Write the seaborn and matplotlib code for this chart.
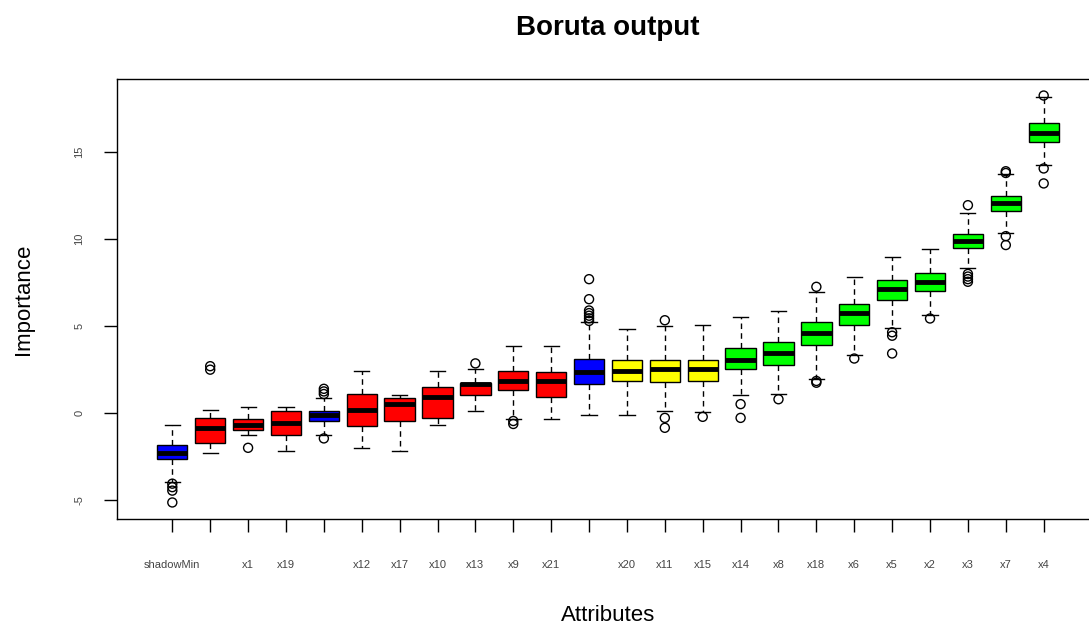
import numpy as np
import pandas as pd
import matplotlib
matplotlib.use("Agg")
import matplotlib.pyplot as plt
import seaborn as sns

# Attributes in plotting order (sorted by median importance)
attributes = ["shadowMin", "x16", "x1", "x19", "shadowMean", "x12", "x17", "x10",
              "x13", "x9", "x21", "shadowMax", "x20", "x11", "x15", "x14",
              "x8", "x18", "x6", "x5", "x2", "x3", "x7", "x4"]
# Labels that fit along the axis (overlapping ones are left blank)
tick_labels = ["shadowMin", "", "x1", "x19", "", "x12", "x17", "x10",
               "x13", "x9", "x21", "", "x20", "x11", "x15", "x14",
               "x8", "x18", "x6", "x5", "x2", "x3", "x7", "x4"]
decision = ["shadow", "rejected", "rejected", "rejected", "shadow", "rejected",
            "rejected", "rejected", "rejected", "rejected", "rejected", "shadow",
            "tentative", "tentative", "tentative", "confirmed", "confirmed",
            "confirmed", "confirmed", "confirmed", "confirmed", "confirmed",
            "confirmed", "confirmed"]

# Five-number summaries of the importance history
whisker_low = [-3.95, -2.26, -1.28, -2.16, -1.23, -1.99, -2.16, -0.69,
               0.15, -0.31, -0.36, -0.11, -0.11, 0.13, 0.04, 1.03,
               1.09, 1.95, 3.33, 4.87, 5.63, 8.35, 10.33, 14.25]
q1 = [-2.66, -1.69, -0.94, -1.28, -0.44, -0.71, -0.44, -0.29,
      1.03, 1.34, 0.94, 1.69, 1.86, 1.78, 1.86, 2.51,
      2.76, 3.91, 5.06, 6.53, 7.03, 9.50, 11.63, 15.60]
median = [-2.26, -0.84, -0.67, -0.59, -0.13, 0.21, 0.54, 0.95,
          1.65, 1.86, 1.86, 2.38, 2.45, 2.51, 2.51, 3.08,
          3.43, 4.58, 5.73, 7.11, 7.55, 9.90, 12.05, 16.11]
q3 = [-1.84, -0.27, -0.36, 0.13, 0.13, 1.13, 0.86, 1.51,
      1.76, 2.41, 2.36, 3.14, 3.08, 3.08, 3.08, 3.74,
      4.08, 5.21, 6.30, 7.68, 8.03, 10.29, 12.47, 16.65]
whisker_high = [-0.69, 0.21, 0.38, 0.38, 0.86, 2.41, 1.02, 2.41,
                2.51, 3.85, 3.85, 5.21, 4.81, 5.02, 5.06, 5.54,
                5.86, 6.97, 7.84, 8.98, 9.41, 11.48, 13.77, 18.14]

# Outlying runs
outlier_attr = ["shadowMin"] * 4 + ["x16"] * 2 + ["x1"] + ["shadowMean"] * 4 + \
               ["x13"] + ["x9"] * 2 + ["shadowMax"] * 7 + ["x11"] * 3 + ["x15"] + \
               ["x14"] * 2 + ["x8"] + ["x18"] * 3 + ["x6"] + ["x5"] * 3 + ["x2"] + \
               ["x3"] * 5 + ["x7"] * 4 + ["x4"] * 3
outlier_value = [-4.05, -4.25, -4.45, -5.13,
                 2.5, 2.7,
                 -1.99,
                 1.1, 1.25, 1.4, -1.45,
                 2.86,
                 -0.45, -0.62,
                 5.3, 5.45, 5.6, 5.75, 5.9, 6.55, 7.7,
                 5.34, -0.27, -0.84,
                 -0.21,
                 0.52, -0.27,
                 0.80,
                 7.26, 1.85, 1.75,
                 3.14,
                 4.65, 4.45, 3.43,
                 5.44,
                 11.95, 8.0, 7.85, 7.7, 7.55,
                 13.8, 13.9, 10.17, 9.66,
                 18.25, 14.06, 13.2]

palette = {"shadow": "#0000FF", "rejected": "#FF0000",
           "tentative": "#FFFF00", "confirmed": "#00FF00"}
box_colors = {a: palette[d] for a, d in zip(attributes, decision)}

rows = []
for i, a in enumerate(attributes):
    for v in (whisker_low[i], q1[i], median[i], q3[i], whisker_high[i]):
        rows.append((a, v))
df = pd.DataFrame(rows, columns=["Attribute", "Importance"])
out_df = pd.DataFrame({"Attribute": outlier_attr, "Importance": outlier_value})

plt.rcParams["font.family"] = ["Liberation Sans", "DejaVu Sans"]

fig = plt.figure(figsize=(10.89, 6.27), dpi=100)
ax = fig.add_axes([117 / 1089, 1 - 519 / 627, (1099 - 117) / 1089, (519 - 79) / 627])

sns.boxplot(data=df, x="Attribute", y="Importance", hue="Attribute",
            order=attributes, hue_order=attributes, palette=box_colors,
            legend=False, whis=(0, 100), width=0.8, showfliers=False,
            linecolor="black", linewidth=1.0, saturation=1, ax=ax,
            medianprops=dict(color="black", linewidth=3.5),
            whiskerprops=dict(color="black", linestyle=(0, (4, 3))),
            capprops=dict(color="black"))

sns.stripplot(data=out_df, x="Attribute", y="Importance", order=attributes,
              jitter=False, size=6.5, color="black", ax=ax,
              facecolor="none", edgecolor="black", linewidth=1.0, zorder=3)

ax.set_xlim(-1.46, 24.46)
ax.set_ylim(-6.08, 19.2)
ax.set_yticks([-5, 0, 5, 10, 15])
ax.set_yticklabels(["-5", "0", "5", "10", "15"], rotation=90, va="center",
                   fontsize=8, color="#444444")
ax.set_xticks(range(len(attributes)))
ax.set_xticklabels(tick_labels, fontsize=8, color="#444444")
ax.tick_params(axis="x", length=9.5, width=1.0, pad=20, direction="out")
ax.tick_params(axis="y", length=9.5, width=1.0, pad=14, direction="out")
for s in ax.spines.values():
    s.set_color("black")
    s.set_linewidth(1.0)

ax.set_xlabel("Attributes", fontsize=16, labelpad=25)
ax.set_ylabel("Importance", fontsize=16, labelpad=29)
ax.set_title("Boruta output", fontsize=20, fontweight="bold", pad=32)

fig.savefig("out.png", dpi=100)
